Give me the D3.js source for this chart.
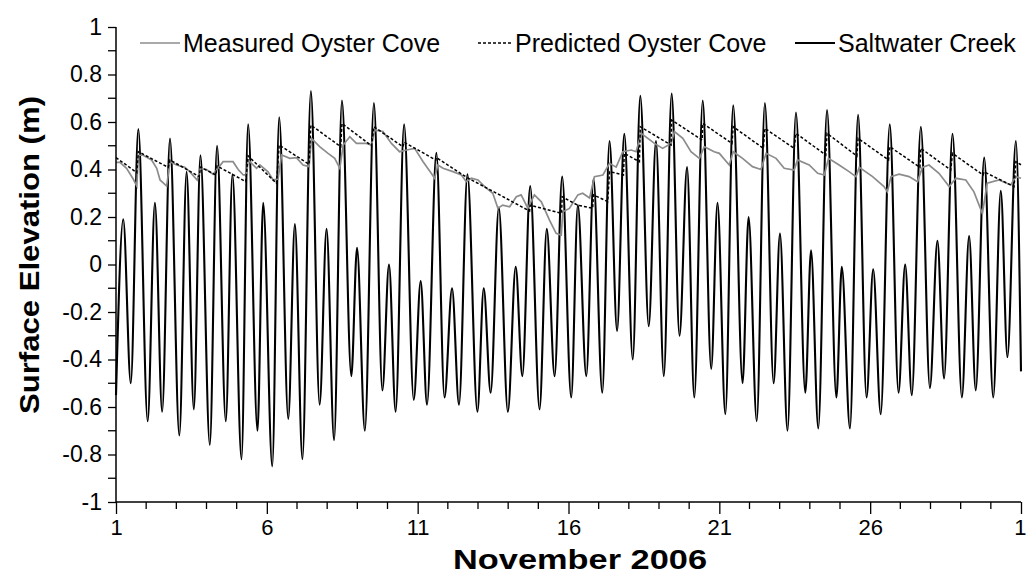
<!DOCTYPE html>
<html><head><meta charset="utf-8">
<script src="https://cdn.jsdelivr.net/npm/d3@7"></script>
<style>
html,body{margin:0;padding:0;background:#fff;}
svg text{font-family:"Liberation Sans",Arial,sans-serif;fill:#000;}
</style></head>
<body><svg id="chart" width="1027" height="577"></svg>
<script>
// Saltwater Creek: successive tide extrema (day of November, elevation m)
const creekDay = [1.00,1.24,1.49,1.74,2.05,2.29,2.53,2.79,3.10,3.34,3.58,3.80,4.11,4.35,4.64,4.86,5.16,5.38,5.69,5.88,
  6.18,6.41,6.71,6.93,7.18,7.46,7.75,7.98,8.23,8.49,8.80,8.99,9.25,9.55,9.83,10.05,10.27,10.55,10.87,11.10,
  11.31,11.62,11.89,12.14,12.37,12.65,12.98,13.19,13.42,13.69,13.99,14.25,14.47,14.73,15.04,15.28,15.54,15.79,16.09,16.31,
  16.59,16.83,17.12,17.36,17.61,17.85,18.13,18.38,18.66,18.90,19.16,19.42,19.68,19.93,20.17,20.45,20.73,20.94,21.20,21.46,
  21.77,21.97,22.24,22.51,22.80,23.01,23.26,23.54,23.85,24.04,24.28,24.57,24.88,25.06,25.33,25.60,25.88,26.10,26.35,26.65,
  26.94,27.16,27.38,27.68,27.98,28.23,28.45,28.73,29.04,29.28,29.50,29.78,30.08,30.33,30.55,30.83,31.00];
const creekLevel = [-0.55,0.19,-0.50,0.57,-0.66,0.26,-0.62,0.53,-0.72,0.39,-0.61,0.46,-0.76,0.50,-0.66,0.38,-0.82,0.59,-0.70,0.26,
  -0.85,0.62,-0.65,0.17,-0.82,0.73,-0.59,0.15,-0.74,0.69,-0.47,0.07,-0.70,0.68,-0.53,0.00,-0.62,0.59,-0.57,-0.07,
  -0.59,0.47,-0.56,-0.10,-0.59,0.38,-0.62,-0.10,-0.54,0.24,-0.62,-0.01,-0.47,0.33,-0.61,0.15,-0.47,0.37,-0.56,0.25,
  -0.47,0.36,-0.54,0.52,-0.28,0.55,-0.40,0.71,-0.26,0.52,-0.47,0.72,-0.30,0.41,-0.56,0.69,-0.44,0.26,-0.63,0.67,
  -0.50,0.20,-0.66,0.68,-0.50,0.13,-0.70,0.64,-0.54,0.06,-0.69,0.65,-0.56,-0.01,-0.69,0.63,-0.56,-0.02,-0.63,0.59,
  -0.54,0.00,-0.55,0.58,-0.52,0.10,-0.48,0.55,-0.56,0.12,-0.53,0.45,-0.56,0.31,-0.39,0.52,-0.45];

// Measured Oyster Cove
const measuredDay = [1.00,1.13,1.35,1.57,1.69,1.74,1.90,2.18,2.35,2.46,2.68,2.79,3.01,3.28,3.45,3.69,3.80,4.00,4.22,4.35,
  4.55,4.88,5.05,5.22,5.33,5.38,5.66,5.77,6.04,6.21,6.37,6.49,6.76,6.98,7.20,7.40,7.48,7.75,8.03,8.25,
  8.42,8.53,8.75,8.97,9.30,9.47,9.58,9.85,10.13,10.40,10.63,10.90,11.18,11.45,11.56,11.67,11.84,12.17,12.45,12.61,
  12.78,13.00,13.22,13.49,13.66,13.82,14.05,14.27,14.43,14.65,14.87,15.10,15.37,15.59,15.76,15.81,16.03,16.31,16.47,16.70,
  16.86,17.14,17.36,17.58,17.80,18.08,18.24,18.41,18.63,18.85,19.12,19.40,19.51,19.79,20.06,20.34,20.50,20.83,21.00,21.33,
  21.46,21.77,22.10,22.38,22.55,22.88,23.15,23.48,23.59,23.98,24.26,24.48,24.62,24.97,25.30,25.53,25.64,26.08,26.46,26.57,
  26.69,26.96,27.29,27.57,27.73,27.95,28.28,28.62,28.84,29.17,29.44,29.72,29.88,30.27,30.66,30.83,31.00];
const measuredLevel = [0.43,0.43,0.405,0.36,0.33,0.46,0.46,0.44,0.405,0.356,0.33,0.433,0.419,0.409,0.39,0.356,0.405,0.40,0.38,0.40,
  0.433,0.433,0.40,0.377,0.377,0.44,0.405,0.419,0.39,0.356,0.36,0.461,0.447,0.45,0.419,0.412,0.531,0.496,0.468,0.447,
  0.405,0.503,0.538,0.51,0.51,0.503,0.566,0.56,0.51,0.475,0.482,0.489,0.433,0.384,0.363,0.419,0.405,0.391,0.377,0.349,
  0.363,0.356,0.328,0.30,0.237,0.25,0.243,0.285,0.293,0.237,0.293,0.264,0.187,0.131,0.124,0.222,0.236,0.293,0.30,0.28,
  0.37,0.377,0.426,0.41,0.475,0.482,0.475,0.552,0.531,0.51,0.489,0.51,0.56,0.531,0.475,0.447,0.496,0.475,0.468,0.419,
  0.475,0.447,0.412,0.40,0.468,0.447,0.405,0.398,0.44,0.419,0.384,0.377,0.447,0.419,0.391,0.37,0.409,0.37,0.328,0.306,
  0.37,0.38,0.37,0.349,0.409,0.419,0.384,0.328,0.363,0.356,0.306,0.215,0.342,0.356,0.335,0.37,0.363];

// Predicted Oyster Cove
const predictedDay = [1.00,1.69,1.74,2.73,2.79,3.76,3.80,4.31,4.35,5.30,5.38,6.32,6.41,7.40,7.46,8.45,8.49,9.47,9.55,10.51,
  10.55,11.60,11.62,12.65,13.72,14.71,14.73,15.77,15.79,16.30,16.80,16.83,17.30,17.36,17.82,17.85,18.35,18.38,19.40,19.42,
  20.43,20.45,21.42,21.46,22.46,22.51,23.48,23.54,24.53,24.57,25.56,25.60,26.61,26.65,27.65,27.68,28.67,28.73,29.74,29.78,
  30.77,30.83,31.00];
const predictedLevel = [0.45,0.387,0.475,0.409,0.44,0.37,0.41,0.377,0.415,0.349,0.457,0.342,0.503,0.422,0.587,0.496,0.594,0.50,0.58,0.496,
  0.515,0.44,0.45,0.365,0.293,0.225,0.25,0.215,0.285,0.25,0.237,0.293,0.265,0.391,0.377,0.468,0.433,0.58,0.503,0.608,
  0.524,0.594,0.51,0.58,0.489,0.573,0.489,0.552,0.461,0.552,0.457,0.531,0.44,0.496,0.409,0.489,0.398,0.468,0.377,0.39,
  0.328,0.433,0.42];

const yTickValues = [-1,-0.8,-0.6,-0.4,-0.2,0,0.2,0.4,0.6,0.8,1];
const yTickLabels = ["-1","-0.8","-0.6","-0.4","-0.2","0","0.2","0.4","0.6","0.8","1"];
const xTickDays = [1,6,11,16,21,26,31];
const xTickLabels = ["1","6","11","16","21","26","1"];
const seriesNames = ["Measured Oyster Cove","Predicted Oyster Cove","Saltwater Creek"];

const svg = d3.select("#chart");
const x = d3.scaleLinear().domain([1,31]).range([116,1021]);
const y = d3.scaleLinear().domain([-1,1]).range([502,27]);

// series
const mk = (days, vals) => days.map((d,i)=>({d, v: vals[i]}));
const lineSmooth = d3.line().x(p=>x(p.d)).y(p=>y(p.v)).curve(d3.curveMonotoneX);
const lineLin = d3.line().x(p=>x(p.d)).y(p=>y(p.v));

svg.append("path").datum(mk(creekDay, creekLevel))
  .attr("d", lineSmooth).attr("fill","none").attr("stroke","#000").attr("stroke-width",2.1);
svg.append("path").datum(mk(measuredDay, measuredLevel))
  .attr("d", lineLin).attr("fill","none").attr("stroke","#8c8c8c").attr("stroke-width",1.7);
svg.append("path").datum(mk(predictedDay, predictedLevel))
  .attr("d", lineLin).attr("fill","none").attr("stroke","#000").attr("stroke-width",1.5)
  .attr("stroke-dasharray","3,2");

// axes
const yAxis = d3.axisLeft(y).tickValues(yTickValues).tickSize(8).tickPadding(6)
  .tickFormat((d,i) => yTickLabels[i]);
const gy = svg.append("g").attr("transform","translate(116,0)").call(yAxis);
gy.select(".domain").attr("d","M0,"+y(-1)+"V"+y(1)).attr("stroke","#000").attr("stroke-width",1.5);
gy.selectAll(".tick line").attr("stroke","#000").attr("stroke-width",1.3);
gy.selectAll(".tick text").style("font-size","23px").attr("fill","#000");
const yMinor = d3.range(-9,10,2).map(k=>k/10);
gy.selectAll(".minor").data(yMinor).enter().append("line")
  .attr("x1",-8).attr("x2",0).attr("y1",d=>y(d)).attr("y2",d=>y(d)).attr("stroke","#000").attr("stroke-width",1.3);

const xAxis = d3.axisBottom(x).tickValues(xTickDays).tickSize(12).tickPadding(5)
  .tickFormat((d,i)=>xTickLabels[i]);
const gx = svg.append("g").attr("transform","translate(0,502)").call(xAxis);
gx.select(".domain").attr("d","M"+x(1)+",0H"+x(31)).attr("stroke","#000").attr("stroke-width",1.5);
gx.selectAll(".tick line").attr("stroke","#000").attr("stroke-width",1.3);
gx.selectAll(".tick text").style("font-size","22px").attr("fill","#000");
gx.selectAll(".tick text").filter((d,i)=>i===xTickDays.length-1).attr("text-anchor","end").attr("dx","5");
const xMinor = d3.range(2,31).filter(d => (d-1)%5 !== 0);
gx.selectAll(".minor").data(xMinor).enter().append("line")
  .attr("x1",d=>x(d)).attr("x2",d=>x(d)).attr("y1",0).attr("y2",7).attr("stroke","#000").attr("stroke-width",1.3);

// titles
svg.append("text").attr("x",580).attr("y",569).attr("text-anchor","middle")
  .attr("textLength",254).attr("lengthAdjust","spacingAndGlyphs")
  .style("font-size","28px").style("font-weight","bold").text("November 2006");
svg.append("text").attr("transform","translate(39,255) rotate(-90)").attr("text-anchor","middle")
  .attr("textLength",318).attr("lengthAdjust","spacingAndGlyphs")
  .style("font-size","28px").style("font-weight","bold").text("Surface Elevation (m)");

// legend
const legX = [140, 478, 795];
const legLen = [40, 34, 40];
const legStyle = [{c:"#8c8c8c",w:1.7,da:null},{c:"#000",w:1.5,da:"3,2"},{c:"#000",w:2,da:null}];
seriesNames.forEach((n,i)=>{
  svg.append("line").attr("x1",legX[i]).attr("x2",legX[i]+legLen[i]).attr("y1",43).attr("y2",43)
    .attr("stroke",legStyle[i].c).attr("stroke-width",legStyle[i].w).attr("stroke-dasharray",legStyle[i].da);
  svg.append("text").attr("x",legX[i]+legLen[i]+3).attr("y",52).style("font-size","25px").attr("fill","#111").text(n);
});
</script></body></html>
